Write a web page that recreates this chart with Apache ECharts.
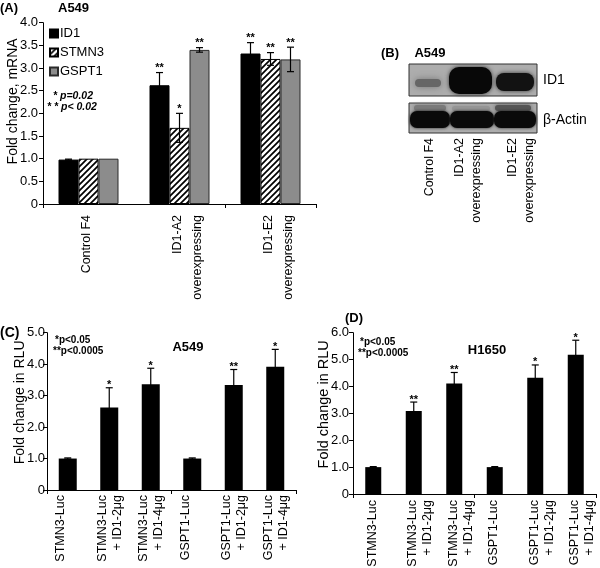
<!DOCTYPE html>
<html><head><meta charset="utf-8">
<script src="https://cdn.jsdelivr.net/npm/echarts@6/dist/echarts.min.js"></script>
<style>html,body{margin:0;padding:0;background:#fff}#c{width:600px;height:568px}</style>
</head><body><div id="c"></div>
<script>
// ---- Panel A data ----
const catsA = ['Control F4', 'ID1-A2\noverexpressing', 'ID1-E2\noverexpressing'];
const seriesNamesA = ['ID1', 'STMN3', 'GSPT1'];
const id1A = [0.98, 2.62, 3.32];
const id1AErr = [0.01, 0.28, 0.24];
const id1AStars = ['', '**', '**'];
const stmn3A = [1.0, 1.68, 3.20];
const stmn3AErr = [0, 0.32, 0.14];
const stmn3AStars = ['', '*', '**'];
const gspt1A = [1.0, 3.40, 3.19];
const gspt1AErr = [0, 0.05, 0.27];
const gspt1AStars = ['', '**', '**'];
// ---- Panel C data ----
const catsC = ['STMN3-Luc', 'STMN3-Luc\n+ ID1-2μg', 'STMN3-Luc\n+ ID1-4μg', 'GSPT1-Luc', 'GSPT1-Luc\n+ ID1-2μg', 'GSPT1-Luc\n+ ID1-4μg'];
const valsC = [1.0, 2.62, 3.36, 1.0, 3.34, 3.92];
const errC = [0.02, 0.63, 0.51, 0.02, 0.49, 0.55];
const starsC = ['', '*', '*', '', '**', '*'];
// ---- Panel D data ----
const catsD = catsC.slice();
const valsD = [1.0, 3.09, 4.11, 1.0, 4.32, 5.18];
const errD = [0.02, 0.33, 0.41, 0.02, 0.48, 0.54];
const starsD = ['', '**', '**', '', '*', '*'];
// ---- Panel B labels ----
const blotLanes = ['Control F4', 'ID1-A2\noverexpressing', 'ID1-E2\noverexpressing'];
const blotRows = ['ID1', 'β-Actin'];

const FONT = '"Liberation Sans", Arial, sans-serif';

function hatch() {
  const c = document.createElement('canvas');
  c.width = 6; c.height = 6;
  const g = c.getContext('2d');
  g.fillStyle = '#fff'; g.fillRect(0, 0, 6, 6);
  g.strokeStyle = '#000'; g.lineWidth = 1.7;
  g.beginPath();
  g.moveTo(-1, 7); g.lineTo(7, -1);
  g.moveTo(-4, 4); g.lineTo(4, -4);
  g.moveTo(2, 10); g.lineTo(10, 2);
  g.stroke();
  return c;
}

function errSeries(xi, yi, vals, errs, stars, offset, starGap) {
  return {
    type: 'custom', xAxisIndex: xi, yAxisIndex: yi, z: 5, silent: true,
    data: vals.map((v, i) => [i, v, errs[i]]),
    encode: { x: 0, y: 1 },
    renderItem: function (params, api) {
      const i = api.value(0), v = api.value(1), e = api.value(2);
      const top = api.coord([i, v + e]);
      const bot = api.coord([i, v - e]);
      const cx = top[0] + offset;
      const children = [];
      if (e > 0) {
        children.push({ type: 'line', shape: { x1: cx, y1: top[1], x2: cx, y2: bot[1] }, style: { stroke: '#000', lineWidth: 1.2 } });
        children.push({ type: 'line', shape: { x1: cx - 3.5, y1: top[1], x2: cx + 3.5, y2: top[1] }, style: { stroke: '#000', lineWidth: 1.2 } });
        children.push({ type: 'line', shape: { x1: cx - 3.5, y1: bot[1], x2: cx + 3.5, y2: bot[1] }, style: { stroke: '#000', lineWidth: 1.2 } });
      }
      const s = stars[params.dataIndex];
      if (s) {
        children.push({ type: 'text', style: { text: s, x: cx, y: top[1] + starGap, textAlign: 'center', textVerticalAlign: 'bottom', font: 'bold 11px ' + FONT, fill: '#000' } });
      }
      return { type: 'group', children: children };
    }
  };
}

const axisLineStyle = { show: true, lineStyle: { color: '#000', width: 1 } };
function yAx(gi, max, interval, name, nameGap, namePad, nameSize, labelMargin) {
  return {
    gridIndex: gi, type: 'value', min: 0, max: max, interval: interval,
    axisLine: axisLineStyle, axisTick: { show: true, length: 4, lineStyle: { color: '#000' } },
    splitLine: { show: false },
    axisLabel: { color: '#000', fontSize: 13, fontFamily: FONT, margin: labelMargin, formatter: v => v === 0 ? '0' : v.toFixed(1) },
    name: name, nameLocation: 'middle', nameGap: nameGap, nameMoveOverlap: false,
    nameTextStyle: { color: '#000', fontSize: nameSize, fontFamily: FONT, padding: namePad }
  };
}
function xAx(gi, cats) {
  return {
    gridIndex: gi, type: 'category', data: cats,
    axisLine: axisLineStyle, axisTick: { show: true, length: 4, lineStyle: { color: '#000' } },
    axisLabel: { show: false }
  };
}

const BW_A = 20;
const hatchPat = { image: hatch(), repeat: 'repeat' };

function txt(text, x, y, font, align, extra) {
  return Object.assign({ type: 'text', silent: true, style: { text: text, x: x, y: y, font: font + ' ' + FONT, fill: '#000', textAlign: align || 'left', textVerticalAlign: 'middle' } }, extra || {});
}
function rect(x, y, w, h, r, fill, blur, sc, stroke) {
  const st = { fill: fill };
  if (blur) { st.shadowBlur = blur; st.shadowColor = sc || fill; }
  if (stroke) { st.stroke = stroke; st.lineWidth = 1; }
  return { type: 'rect', silent: true, shape: { x: x, y: y, width: w, height: h, r: r }, style: st };
}

const option = {
  animation: false,
  backgroundColor: '#fff',
  textStyle: { fontFamily: FONT },
  grid: [
    { left: 43, right: 284, top: 22.7, bottom: 364, outerBoundsMode: 'none', containLabel: false },
    { left: 47, right: 304, top: 332.7, bottom: 78, outerBoundsMode: 'none', containLabel: false },
    { left: 353, right: 4, top: 332.7, bottom: 74, outerBoundsMode: 'none', containLabel: false }
  ],
  legend: {
    data: seriesNamesA, orient: 'vertical', left: 49, top: 27, itemWidth: 8, itemHeight: 8, itemGap: 6,
    icon: 'rect', padding: 0, textStyle: { color: '#000', fontSize: 13, fontFamily: FONT, padding: [0, 0, 0, -3] }
  },
  xAxis: [xAx(0, catsA), xAx(1, catsC), xAx(2, catsD)],
  yAxis: [
    yAx(0, 4, 0.5, 'Fold change, mRNA', 23, [0, 0, 0, 24], 14, 5),
    yAx(1, 5, 1, 'Fold change in RLU', 20, [0, 0, 0, 18], 14, 2),
    yAx(2, 6, 1, 'Fold change in RLU', 22, [0, 0, 0, 18], 14.5, 4)
  ],
  series: [
    { name: 'ID1', type: 'bar', xAxisIndex: 0, yAxisIndex: 0, data: id1A, barWidth: BW_A, barGap: '0%',
      itemStyle: { color: '#000', borderColor: '#000', borderWidth: 1 } },
    { name: 'STMN3', type: 'bar', xAxisIndex: 0, yAxisIndex: 0, data: stmn3A, barWidth: BW_A, barGap: '0%',
      itemStyle: { color: hatchPat, borderColor: '#000', borderWidth: 1 } },
    { name: 'GSPT1', type: 'bar', xAxisIndex: 0, yAxisIndex: 0, data: gspt1A, barWidth: BW_A, barGap: '0%',
      itemStyle: { color: '#8c8c8c', borderColor: '#2a2a2a', borderWidth: 1 } },
    errSeries(0, 0, id1A, id1AErr, id1AStars, -BW_A, 1),
    errSeries(0, 0, stmn3A, stmn3AErr, stmn3AStars, 0, 1),
    errSeries(0, 0, gspt1A, gspt1AErr, gspt1AStars, BW_A, 1),
    { name: 'C', type: 'bar', xAxisIndex: 1, yAxisIndex: 1, data: valsC, barWidth: 18, itemStyle: { color: '#000' } },
    errSeries(1, 1, valsC, errC, starsC, 0, 3),
    { name: 'D', type: 'bar', xAxisIndex: 2, yAxisIndex: 2, data: valsD, barWidth: 16, itemStyle: { color: '#000' } },
    errSeries(2, 2, valsD, errD, starsD, 0, 3)
  ]
};
const chart = echarts.init(document.getElementById('c'), null, { renderer: 'canvas' });
chart.setOption(option);

const graphics = [
  // Panel A titles and notes
  txt('(A)', 0, 8, 'bold 13px'), txt('A549', 58, 8, 'bold 13px'),
  txt('* p=0.02', 53, 96, 'italic bold 10.5px'), txt('* * p< 0.02', 47, 107, 'italic bold 10.5px'),
  // Panel C
  txt('(C)', 0, 333, 'bold 14px'), txt('A549', 188, 347, 'bold 13px', 'center'),
  txt('*p<0.05', 55, 340, 'bold 10px'), txt('**p<0.0005', 53, 351, 'bold 10px'),
  // Panel D
  txt('(D)', 345, 318, 'bold 13px'), txt('H1650', 487, 350, 'bold 13px', 'center'),
  txt('*p<0.05', 360, 342, 'bold 10px'), txt('**p<0.0005', 358, 353, 'bold 10px'),
  // Panel B
  txt('(B)', 390, 53, 'bold 13px', 'center'), txt('A549', 430, 53, 'bold 13px', 'center'),
  txt(blotRows[0], 543, 80, '14px'), txt(blotRows[1], 543, 120, '14px'),
  // blot: ID1 row
  rect(409, 64, 128, 32, 0, '#adadad', 0, null, '#333'),
  rect(415, 79, 26, 8, 4, '#666', 7, '#777'),
  rect(449, 67, 43, 27, 10, '#080808', 4, '#333'),
  rect(496, 73, 38, 18, 8, '#121212', 4, '#333'),
  // blot: actin row
  rect(409, 103, 128, 30, 0, '#adadad', 0, null, '#333'),
  rect(414, 105, 32, 6, 3, '#7a7a7a', 4),
  rect(452, 106, 38, 5, 2.5, '#959595', 4),
  rect(495, 105, 36, 6, 3, '#555', 4),
  rect(410, 111, 40, 17, 7, '#0a0a0a', 3, '#222'),
  rect(450, 111, 44, 17, 7, '#0a0a0a', 3, '#222'),
  rect(494, 111, 42, 17, 7, '#0a0a0a', 3, '#222')
];
// lane labels for blot (rotated)
const laneX = [430, 460, 513];
blotLanes.forEach((s, i) => {
  s.split('\n').forEach((line, j) => {
    graphics.push({ type: 'text', silent: true, x: laneX[i] + j * 17, y: 138, rotation: Math.PI / 2,
      style: { text: line, x: 0, y: 0, font: '12.5px ' + FONT, fill: '#000', textAlign: 'right', textVerticalAlign: 'middle' } });
  });
});
// category labels placed from the axes' own scales
function catLabels(gi, cats, margin, shift, lh) {
  cats.forEach((s, i) => {
    const p = chart.convertToPixel({ gridIndex: gi }, [i, 0]);
    s.split('\n').forEach((line, j) => {
      graphics.push({ type: 'text', silent: true, x: p[0] + shift + j * lh, y: p[1] + margin, rotation: Math.PI / 2,
        style: { text: line, x: 0, y: 0, font: '12.5px ' + FONT, fill: '#000', textAlign: 'right', textVerticalAlign: 'middle' } });
    });
  });
}
catLabels(0, catsA, 11, -2, 20);
catLabels(1, catsC, 5, -7, 15);
catLabels(2, catsD, 6, -1, 15);
chart.setOption({ graphic: { elements: graphics } });
</script></body></html>
